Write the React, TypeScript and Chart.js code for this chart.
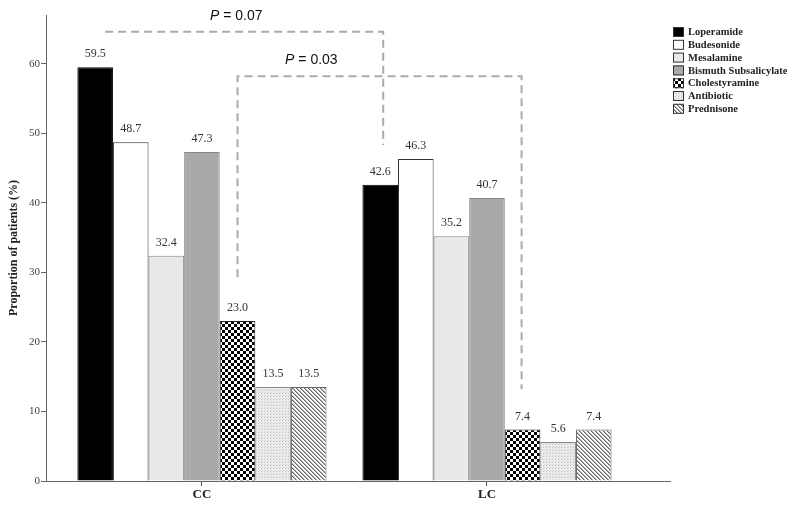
import React, { useEffect, useRef } from "react";
import { Chart, registerables } from "chart.js";

Chart.register(...registerables);

const categories = ["CC", "LC"];
const seriesNames = [
  "Loperamide",
  "Budesonide",
  "Mesalamine",
  "Bismuth Subsalicylate",
  "Cholestyramine",
  "Antibiotic",
  "Prednisone",
];
const loperamide = [59.5, 42.6];
const budesonide = [48.7, 46.3];
const mesalamine = [32.4, 35.2];
const bismuth = [47.3, 40.7];
const cholestyramine = [23.0, 7.4];
const antibiotic = [13.5, 5.6];
const prednisone = [13.5, 7.4];
const seriesValues = [loperamide, budesonide, mesalamine, bismuth, cholestyramine, antibiotic, prednisone];
const yTicks = [0, 10, 20, 30, 40, 50, 60];

// P-value brackets: label, series index joined, bracket level, drop ends (left, right)
const pLabels = ["0.07", "0.03"];
const pSeries = [0, 4];
const pLevels = [64.6, 58.2];
const pLeftEnds = [null, 29.3];
const pRightEnds = [48.3, 13.2];
const pTextFrac = [0.49, 0.26];

const SERIF = '"Liberation Serif", "Times New Roman", serif';
const SANS = '"Liberation Sans", Arial, sans-serif';

function makePattern(kind: string): CanvasPattern | string {
  const c = document.createElement("canvas");
  const ctx = c.getContext("2d")!;
  if (kind === "checker") {
    c.width = 6; c.height = 6;
    ctx.fillStyle = "#fff"; ctx.fillRect(0, 0, 6, 6);
    ctx.fillStyle = "#000";
    ctx.fillRect(0, 0, 3, 3); ctx.fillRect(3, 3, 3, 3);
  } else if (kind === "dots") {
    c.width = 3; c.height = 3;
    ctx.fillStyle = "#ececec"; ctx.fillRect(0, 0, 3, 3);
    ctx.fillStyle = "#bdbdbd";
    ctx.fillRect(0, 0, 1, 1);
    ctx.fillStyle = "#d4d4d4";
    ctx.fillRect(1, 2, 1, 1);
  } else if (kind === "diag") {
    c.width = 4; c.height = 4;
    ctx.fillStyle = "#fff"; ctx.fillRect(0, 0, 4, 4);
    ctx.fillStyle = "#666";
    for (let i = 0; i < 4; i++) ctx.fillRect(i, i, 1, 1);
    ctx.fillStyle = "#aaa";
    for (let i = 0; i < 4; i++) ctx.fillRect((i + 1) % 4, i, 1, 1);
  }
  return ctx.createPattern(c, "repeat")!;
}

export default function App() {
  const ref = useRef<HTMLCanvasElement>(null);
  useEffect(() => {
    const fills: (string | CanvasPattern)[] = [
      "#000000",
      "#ffffff",
      "#e9e9e9",
      "#a9a9a9",
      makePattern("checker"),
      makePattern("dots"),
      makePattern("diag"),
    ];
    const borders = ["#000", "#333", "#888", "#888", "#222", "#888", "#666"];
    const dropShift = [3, -1];

    const labelPlugin = {
      id: "valueLabels",
      afterDatasetsDraw(chart: any) {
        const ctx = chart.ctx;
        ctx.save();
        ctx.font = `12px ${SERIF}`;
        ctx.fillStyle = "#333";
        ctx.textAlign = "center";
        ctx.textBaseline = "bottom";
        chart.data.datasets.forEach((ds: any, i: number) => {
          const meta = chart.getDatasetMeta(i);
          meta.data.forEach((el: any, j: number) => {
            ctx.fillText(ds.data[j].y.toFixed(1), el.x, el.y - 7);
          });
        });
        ctx.restore();
      },
    };

    const annotPlugin = {
      id: "annotations",
      afterDraw(chart: any) {
        const ctx = chart.ctx;
        const ys = chart.scales.y;
        ctx.save();
        pLabels.forEach((lab, k) => {
          const meta = chart.getDatasetMeta(pSeries[k]);
          const x1 = meta.data[0].x;
          const x2 = meta.data[1].x + dropShift[k];
          const yl = ys.getPixelForValue(pLevels[k]);
          ctx.strokeStyle = "#aaaaaa";
          ctx.lineWidth = 2;
          ctx.setLineDash([8, 5]);
          ctx.beginPath();
          if (pLeftEnds[k] !== null) {
            ctx.moveTo(x1, ys.getPixelForValue(pLeftEnds[k] as number));
            ctx.lineTo(x1, yl);
          } else {
            ctx.moveTo(x1 + 10, yl);
          }
          ctx.lineTo(x2, yl);
          ctx.lineTo(x2, ys.getPixelForValue(pRightEnds[k]));
          ctx.stroke();
          ctx.setLineDash([]);
          const tx = x1 + (x2 - x1) * pTextFrac[k];
          const ty = yl - 16;
          ctx.fillStyle = "#111";
          ctx.textBaseline = "middle";
          ctx.font = `italic 14px ${SANS}`;
          const pW = ctx.measureText("P").width;
          ctx.font = `14px ${SANS}`;
          const rest = " = " + lab;
          const rW = ctx.measureText(rest).width;
          const sx = tx - (pW + rW) / 2;
          ctx.textAlign = "left";
          ctx.font = `italic 14px ${SANS}`;
          ctx.fillText("P", sx, ty);
          ctx.font = `14px ${SANS}`;
          ctx.fillText(rest, sx + pW, ty);
        });
        const lx = 673;
        let ly = 27;
        ctx.font = `bold 10.5px ${SERIF}`;
        ctx.textBaseline = "middle";
        ctx.textAlign = "left";
        seriesNames.forEach((name, i) => {
          ctx.fillStyle = fills[i] as any;
          ctx.fillRect(lx, ly, 11, 10);
          ctx.strokeStyle = "#333";
          ctx.lineWidth = 1;
          ctx.strokeRect(lx + 0.5, ly + 0.5, 10, 9);
          ctx.fillStyle = "#222";
          ctx.fillText(name, lx + 15, ly + 5.5);
          ly += 12.8;
        });
        ctx.restore();
      },
    };

    const chart = new Chart(ref.current!, {
      type: "bar",
      data: {
        datasets: seriesNames.map((name, i) => ({
          label: name,
          data: categories.map((_, j) => ({ x: j, y: seriesValues[i][j] })),
          backgroundColor: fills[i] as any,
          borderColor: borders[i],
          borderWidth: 1,
          categoryPercentage: 0.874,
          barPercentage: 1,
        })),
      },
      options: {
        responsive: false,
        animation: false,
        devicePixelRatio: 1,
        layout: { padding: { top: 15, right: 130, left: 0, bottom: 0 } },
        plugins: { legend: { display: false }, tooltip: { enabled: false } },
        scales: {
          x: {
            type: "linear",
            offset: false,
            min: -0.547,
            max: 1.642,
            afterBuildTicks: (s: any) => {
              s.ticks = categories.map((_, j) => ({ value: j }));
            },
            afterFit: (s: any) => {
              s.height = 29;
            },
            ticks: {
              callback: (v: any) => categories[Math.round(v)] ?? "",
              font: { family: SERIF, size: 13, weight: "bold" },
              color: "#222",
              padding: 1,
            },
            grid: { offset: false, drawOnChartArea: false, drawTicks: true, tickLength: 5, color: "#555" },
            border: { display: true, color: "#666", width: 1 },
          },
          y: {
            min: 0,
            max: 67,
            afterBuildTicks: (s: any) => {
              s.ticks = yTicks.map((v) => ({ value: v }));
            },
            afterFit: (s: any) => {
              s.width = 46;
            },
            ticks: {
              font: { family: SERIF, size: 11 },
              color: "#444",
              padding: 1,
            },
            grid: { drawOnChartArea: false, drawTicks: true, tickLength: 5, color: "#666" },
            border: { display: true, color: "#666", width: 1 },
            title: {
              display: true,
              text: "Proportion of patients (%)",
              font: { family: SERIF, size: 12, weight: "bold" },
              color: "#222",
              padding: { top: 7, bottom: 0 },
            },
          },
        },
      },
      plugins: [labelPlugin, annotPlugin],
    } as any);
    return () => chart.destroy();
  }, []);
  return (
    <div style={{ position: "absolute", left: 0, top: 0, width: 800, height: 510, background: "#fff" }}>
      <canvas ref={ref} width={800} height={510} />
    </div>
  );
}
